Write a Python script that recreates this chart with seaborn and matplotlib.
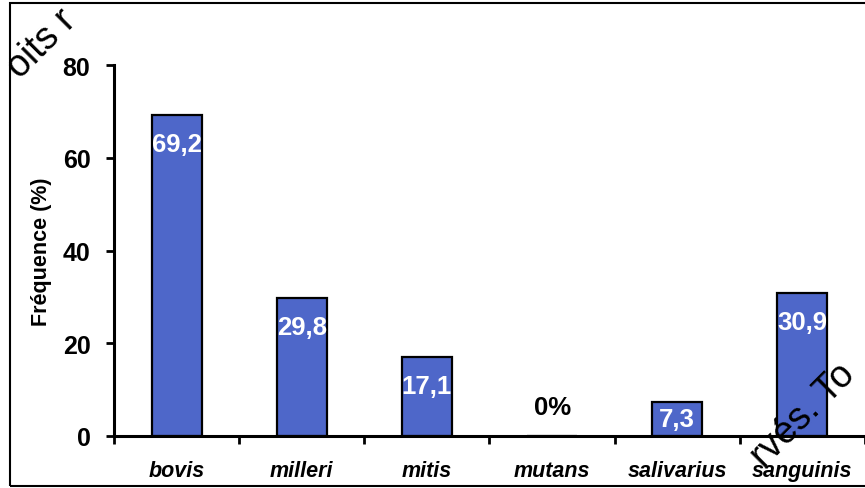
import matplotlib
matplotlib.use("Agg")
import matplotlib.pyplot as plt
from matplotlib.patches import Rectangle
import seaborn as sns
import pandas as pd

# Streptococcus species and their frequency (%)
species = ["bovis", "milleri", "mitis", "mutans", "salivarius", "sanguinis"]
frequency = [69.2, 29.8, 17.1, 0.0, 7.3, 30.9]
value_labels = ["69,2", "29,8", "17,1", "0%", "7,3", "30,9"]
y_ticks = [0, 20, 40, 60, 80]

df = pd.DataFrame({"species": species, "frequency": frequency})

sns.set_style("ticks")
plt.rcParams["font.family"] = ["Liberation Sans", "DejaVu Sans"]
plt.rcParams["text.color"] = "black"
plt.rcParams["axes.labelcolor"] = "black"
plt.rcParams["xtick.color"] = "black"
plt.rcParams["ytick.color"] = "black"
plt.rcParams["axes.edgecolor"] = "black"

fig = plt.figure(figsize=(8.65, 4.89), dpi=100)
ax = fig.add_axes([114 / 865, 52 / 489, 751 / 865, 371 / 489])

sns.barplot(data=df, x="species", y="frequency", color="#4e67c9",
            edgecolor="black", linewidth=1.6, width=0.4, saturation=1, ax=ax)

ax.set_xlim(-0.5, len(species) - 0.5)
ax.set_ylim(0, 80)
ax.set_yticks(y_ticks)
ax.set_yticklabels([str(t) for t in y_ticks], fontweight="bold", fontsize=18)
ax.tick_params(axis="y", direction="out", length=6, width=2, pad=11)

# category labels centred, boundary ticks pointing down
ax.set_xticks(range(len(species)))
ax.set_xticklabels(species, fontweight="bold", fontstyle="italic", fontsize=15.5)
ax.tick_params(axis="x", which="major", length=0, pad=17)
ax.set_xticks([i - 0.5 for i in range(len(species) + 1)], minor=True)
ax.tick_params(axis="x", which="minor", direction="out", length=6, width=2)

ax.set_xlabel("")
ax.set_ylabel("Fréquence (%)", fontweight="bold", fontsize=15.5, labelpad=8)

for side in ["top", "right"]:
    ax.spines[side].set_visible(False)
for side in ["left", "bottom"]:
    ax.spines[side].set_linewidth(2.2)

# value labels inside the bars
for i, (v, lab) in enumerate(zip(frequency, value_labels)):
    if v == 0:
        ax.text(i, 6.3, lab, ha="center", va="center", color="black",
                fontweight="bold", fontsize=18.5)
    else:
        y = v / 2 if v < 10 else v - 6.3
        ax.text(i, y, lab, ha="center", va="center", color="white",
                fontweight="bold", fontsize=18.5)

# outer frame
fig.patches.append(Rectangle((10 / 865, 2 / 489), 900 / 865, 483 / 489,
                             transform=fig.transFigure, fill=False,
                             edgecolor="black", linewidth=1.5))

# diagonal notice text
fig.text(20 / 865, 409 / 489, "oits r",
         rotation=45, rotation_mode="anchor", ha="left", va="baseline",
         fontsize=27, color="black")
fig.text(764 / 865, 20 / 489, "rvés. To",
         rotation=45, rotation_mode="anchor", ha="left", va="baseline",
         fontsize=27, color="black")

fig.savefig("out.png", dpi=100)
